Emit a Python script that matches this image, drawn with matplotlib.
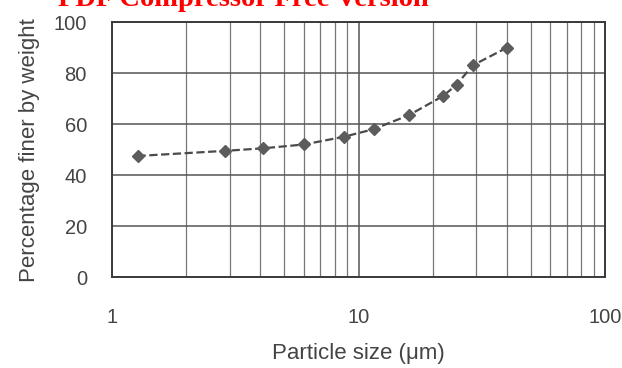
import matplotlib
matplotlib.use("Agg")
import matplotlib.pyplot as plt
from matplotlib.ticker import LogLocator, FixedLocator, NullFormatter

# particle size (um) and percentage finer by weight
size_um = [1.27, 2.87, 4.1, 6.0, 8.7, 11.5, 16.0, 22.0, 25.0, 29.0, 40.0]
pct_finer = [47.5, 49.5, 50.5, 52.0, 55.0, 58.0, 63.5, 71.0, 75.5, 83.0, 90.0]

x_ticks = [1, 10, 100]
x_tick_labels = ["1", "10", "100"]
y_ticks = [0, 20, 40, 60, 80, 100]

plt.rcParams["font.family"] = ["Liberation Sans", "DejaVu Sans"]
text_col = "#444444"
grid_col = "#555555"

fig = plt.figure(figsize=(6.22, 3.68), dpi=100)
ax = fig.add_axes([0.180, 0.247, 0.793, 0.693])

ax.plot(size_um, pct_finer, linestyle="--", color="#4a4a4a", linewidth=1.6,
        marker="D", markersize=6.5, markerfacecolor="#5c5c5c",
        markeredgecolor="#5c5c5c", zorder=3)

ax.set_xscale("log")
ax.set_xlim(1, 100)
ax.set_ylim(0, 100)

ax.xaxis.set_major_locator(FixedLocator(x_ticks))
ax.set_xticklabels(x_tick_labels)
ax.xaxis.set_minor_locator(LogLocator(base=10, subs=range(2, 10)))
ax.xaxis.set_minor_formatter(NullFormatter())
ax.set_yticks(y_ticks)

ax.grid(True, which="major", axis="both", color=grid_col, linewidth=1.1)
ax.grid(True, which="minor", axis="x", color=grid_col, linewidth=0.9, alpha=0.8)

ax.tick_params(axis="both", which="both", length=0, colors=text_col, labelsize=14.5)
ax.tick_params(axis="x", pad=22)
ax.tick_params(axis="y", pad=18)

for sp in ax.spines.values():
    sp.set_color("#3a3a3a")
    sp.set_linewidth(1.4)

ax.set_xlabel("Particle size (\u03bcm)", fontsize=16, color=text_col, labelpad=12)
ax.set_ylabel("Percentage finer by weight", fontsize=16, color=text_col, labelpad=10)

fig.text(58 / 622, 1 - 6 / 368, "PDF Compressor Free Version", color="red",
         fontsize=20.5, fontweight="bold", family="Liberation Serif",
         ha="left", va="baseline")

fig.savefig("out.png", dpi=100)
